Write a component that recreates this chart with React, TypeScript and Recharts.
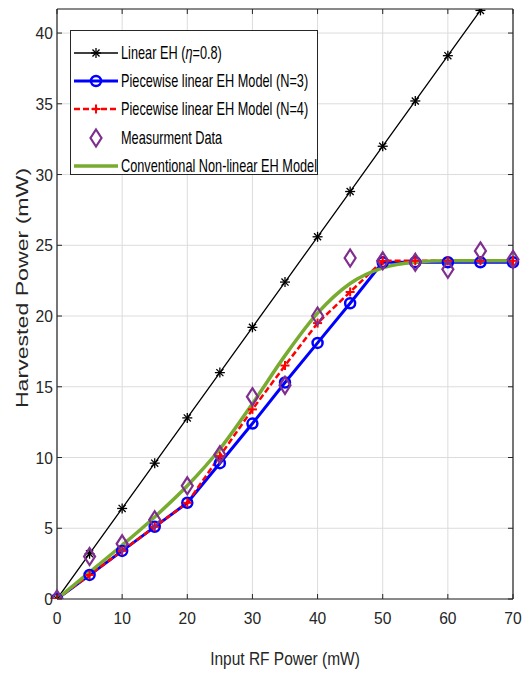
import React from "react";
import { ComposedChart, Line, XAxis, YAxis, CartesianGrid, ReferenceLine } from "recharts";

// input RF power (mW)
const inputPower = [0, 5, 10, 15, 20, 25, 30, 35, 40, 45, 50, 55, 60, 65, 70];
const linearEH = [0, 3.2, 6.4, 9.6, 12.8, 16, 19.2, 22.4, 25.6, 28.8, 32, 35.2, 38.4, 41.6, 44.8];
const piecewiseN3 = [0, 1.7, 3.4, 5.1, 6.8, 9.6, 12.4, 15.3, 18.1, 20.9, 23.8, 23.8, 23.8, 23.8, 23.8];
const piecewiseN4 = [0, 1.7, 3.4, 5.1, 6.8, 10.1, 13.4, 16.5, 19.5, 21.7, 23.9, 23.9, 23.9, 23.9, 23.9];
const measured = [0, 3.0, 3.9, 5.6, 8.0, 10.2, 14.3, 15.1, 20.0, 24.1, 23.9, 23.8, 23.3, 24.6, 24.0];
const conventional = [0, 1.9, 3.8, 5.8, 8.0, 10.6, 13.8, 17.2, 20.2, 22.3, 23.4, 23.8, 23.9, 23.9, 23.9];

const xTicks = [0, 10, 20, 30, 40, 50, 60, 70];
const yTicks = [0, 5, 10, 15, 20, 25, 30, 35, 40];
const Y_MAX = 41.7;

const data = inputPower.map((x, i) => ({
    x,
    linear: linearEH[i],
    n3: piecewiseN3[i],
    n4: piecewiseN4[i],
    meas: measured[i],
    conv: conventional[i],
}));

const W = 529;
const H = 673;
const M = { top: 9, right: 16, left: 0, bottom: 0 };
const Y_AXIS_W = 57;
const X_AXIS_H = 74;
const PLOT_TOP = M.top;
const PLOT_BOTTOM = H - X_AXIS_H;
const PLOT_LEFT = Y_AXIS_W;
const PLOT_RIGHT = W - M.right;

const FONT = "'Liberation Sans', Arial, Helvetica, sans-serif";
const TICK_COLOR = "#262626";

const XTick = (props: any) => {
    const { x, payload } = props;
    return (
        <g>
            <line x1={x} x2={x} y1={PLOT_BOTTOM} y2={PLOT_BOTTOM - 5} stroke={TICK_COLOR} />
            <line x1={x} x2={x} y1={PLOT_TOP} y2={PLOT_TOP + 5} stroke={TICK_COLOR} />
            <text
                transform={`translate(${x},${PLOT_BOTTOM + 25}) scale(0.92,1)`}
                textAnchor="middle"
                fontSize={17}
                fill={TICK_COLOR}
                fontFamily={FONT}
            >
                {payload.value}
            </text>
        </g>
    );
};

const YTick = (props: any) => {
    const { y, payload } = props;
    return (
        <g>
            <line x1={PLOT_LEFT} x2={PLOT_LEFT + 5} y1={y} y2={y} stroke={TICK_COLOR} />
            <line x1={PLOT_RIGHT} x2={PLOT_RIGHT - 5} y1={y} y2={y} stroke={TICK_COLOR} />
            <text
                transform={`translate(${PLOT_LEFT - 4},${y + 6}) scale(0.92,1)`}
                textAnchor="end"
                fontSize={17}
                fill={TICK_COLOR}
                fontFamily={FONT}
            >
                {payload.value}
            </text>
        </g>
    );
};

const Asterisk = ({ cx, cy }: any) => {
    if (cx == null || cy == null) return null;
    const r = 5;
    const d = r * 0.707;
    return (
        <g stroke="#000" strokeWidth={1.3}>
            <line x1={cx - r} x2={cx + r} y1={cy} y2={cy} />
            <line x1={cx} x2={cx} y1={cy - r} y2={cy + r} />
            <line x1={cx - d} x2={cx + d} y1={cy - d} y2={cy + d} />
            <line x1={cx - d} x2={cx + d} y1={cy + d} y2={cy - d} />
        </g>
    );
};

const Plus = ({ cx, cy }: any) => {
    if (cx == null || cy == null) return null;
    const r = 4.5;
    return (
        <g stroke="#ff0000" strokeWidth={2}>
            <line x1={cx - r} x2={cx + r} y1={cy} y2={cy} />
            <line x1={cx} x2={cx} y1={cy - r} y2={cy + r} />
        </g>
    );
};

const Diamond = ({ cx, cy }: any) => {
    if (cx == null || cy == null) return null;
    const w = 5.5;
    const h = 8.5;
    return (
        <path
            d={`M${cx},${cy - h} L${cx + w},${cy} L${cx},${cy + h} L${cx - w},${cy} Z`}
            fill="none"
            stroke="#7e2f8e"
            strokeWidth={2.2}
        />
    );
};

const legendItems = [
    { key: "linear", label: "Linear EH" },
    { key: "n3", label: "Piecewise linear EH Model (N=3)" },
    { key: "n4", label: "Piecewise linear EH Model (N=4)" },
    { key: "meas", label: "Measurment Data" },
    { key: "conv", label: "Conventional Non-linear EH Model" },
];

function LegendSample({ kind }: { kind: string }) {
    return (
        <svg width={48} height={22} style={{ display: "block", flexShrink: 0 }}>
            {kind === "linear" && (
                <g>
                    <line x1={2} x2={46} y1={11} y2={11} stroke="#000" strokeWidth={1.3} />
                    <Asterisk cx={24} cy={11} />
                </g>
            )}
            {kind === "n3" && (
                <g>
                    <line x1={2} x2={46} y1={11} y2={11} stroke="#0000ff" strokeWidth={3} />
                    <circle cx={24} cy={11} r={5} fill="none" stroke="#0000ff" strokeWidth={2.5} />
                </g>
            )}
            {kind === "n4" && (
                <g>
                    <line x1={2} x2={46} y1={11} y2={11} stroke="#ff0000" strokeWidth={2.5} strokeDasharray="6 3" />
                    <Plus cx={24} cy={11} />
                </g>
            )}
            {kind === "meas" && <Diamond cx={24} cy={11} />}
            {kind === "conv" && <line x1={2} x2={46} y1={11} y2={11} stroke="#77ac30" strokeWidth={3.5} />}
        </svg>
    );
}

export default function App() {
    return (
        <div style={{ position: "absolute", left: 0, top: 0, width: W, height: H, background: "#fff" }}>
            <ComposedChart width={W} height={H} data={data} margin={M}>
                <CartesianGrid stroke="#dcdcdc" strokeWidth={1} />
                <XAxis
                    dataKey="x"
                    type="number"
                    domain={[0, 70]}
                    ticks={xTicks}
                    height={X_AXIS_H}
                    tick={<XTick />}
                    tickLine={false}
                    axisLine={{ stroke: "#262626", strokeWidth: 1.2 }}
                    interval={0}
                />
                <YAxis
                    type="number"
                    domain={[0, Y_MAX]}
                    ticks={yTicks}
                    allowDataOverflow
                    width={Y_AXIS_W}
                    tick={<YTick />}
                    tickLine={false}
                    axisLine={{ stroke: "#262626", strokeWidth: 1.2 }}
                    interval={0}
                />
                <ReferenceLine y={Y_MAX} stroke="#262626" strokeWidth={1.2} ifOverflow="extendDomain" />
                <ReferenceLine x={70} stroke="#262626" strokeWidth={1.2} />
                <Line dataKey="linear" stroke="#000" strokeWidth={1.3} dot={(p: any) => <Asterisk key={`a${p.index}`} {...p} />} isAnimationActive={false} />
                <Line
                    dataKey="n3"
                    stroke="#0000ff"
                    strokeWidth={3}
                    dot={{ r: 5, fill: "none", stroke: "#0000ff", strokeWidth: 2.5 }}
                    isAnimationActive={false}
                />
                <Line
                    dataKey="n4"
                    stroke="#ff0000"
                    strokeWidth={2.5}
                    strokeDasharray="6 3"
                    dot={(p: any) => <Plus key={`p${p.index}`} {...p} />}
                    isAnimationActive={false}
                />
                <Line dataKey="meas" stroke="none" dot={(p: any) => <Diamond key={`d${p.index}`} {...p} />} isAnimationActive={false} />
                <Line dataKey="conv" type="monotone" stroke="#77ac30" strokeWidth={3.5} dot={false} isAnimationActive={false} />
            </ComposedChart>

            <div
                style={{
                    position: "absolute",
                    left: 70,
                    top: 30,
                    width: 248,
                    height: 145,
                    border: "1px solid #262626",
                    background: "#fff",
                    boxSizing: "border-box",
                    padding: "8px 0 0 1px",
                    fontFamily: FONT,
                    color: "#000",
                }}
            >
                {legendItems.map((item) => (
                    <div key={item.key} style={{ display: "flex", alignItems: "center", height: 28.2 }}>
                        <LegendSample kind={item.key} />
                        <span
                            style={{
                                display: "inline-block",
                                marginLeft: 1,
                                whiteSpace: "nowrap",
                                fontSize: 19,
                                lineHeight: "20px",
                                transform: "scaleX(0.67)",
                                transformOrigin: "left center",
                            }}
                        >
                            {item.key === "linear" ? (
                                <>
                                    {item.label} (<i>η</i>=0.8)
                                </>
                            ) : (
                                item.label
                            )}
                        </span>
                    </div>
                ))}
            </div>

            <div
                style={{
                    position: "absolute",
                    left: PLOT_LEFT,
                    width: PLOT_RIGHT - PLOT_LEFT,
                    top: 650,
                    textAlign: "center",
                    fontFamily: FONT,
                    fontSize: 18,
                    lineHeight: "18px",
                    color: TICK_COLOR,
                }}
            >
                <span style={{ display: "inline-block", transform: "scaleX(0.86)" }}>Input RF Power (mW)</span>
            </div>
            <div
                style={{
                    position: "absolute",
                    left: 22,
                    top: 288,
                    transform: "translate(-50%, -50%) rotate(-90deg) scaleX(1.36)",
                    whiteSpace: "nowrap",
                    fontFamily: FONT,
                    fontSize: 17,
                    lineHeight: "17px",
                    color: TICK_COLOR,
                }}
            >
                Harvested Power (mW)
            </div>
        </div>
    );
}
